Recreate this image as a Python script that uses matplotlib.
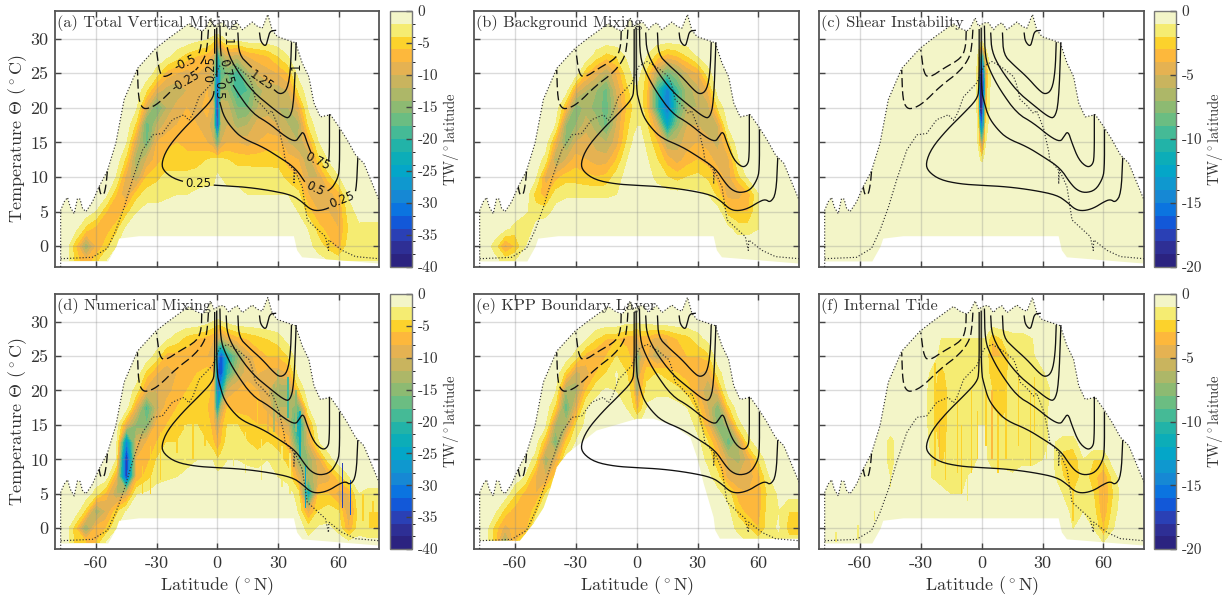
import numpy as np
import matplotlib
matplotlib.use("Agg")
import matplotlib.pyplot as plt
from matplotlib.colors import ListedColormap, BoundaryNorm
from matplotlib.colorbar import ColorbarBase

plt.rcParams.update({"font.family": ["cmr10", "DejaVu Serif"], "mathtext.fontset": "cm",
                     "axes.unicode_minus": False, "axes.formatter.use_mathtext": True})

# ---- colours of the 20 bands, from level 0 down to the most negative
band_colors = ["#f3f5c8", "#f5ec72", "#fcd22c", "#fdb83c", "#e5b252", "#c9b45e", "#adb768",
               "#8dba72", "#6bbd82", "#45ba96", "#22b3a8", "#0cadb8", "#04a6c8", "#0f98cf",
               "#1688d4", "#0b74e0", "#1258d8", "#2a40b5", "#2e2f95", "#2b2380"]

# ---- grid on which the magnitudes were read (TW/deg latitude, sign applied when drawn)
lat_cols = [-75, -70, -65, -60, -55, -50, -45, -40, -35, -30, -25, -20, -15, -10, -5, -2, 0, 2, 5,
            10, 15, 20, 25, 30, 35, 40, 45, 50, 55, 60, 65, 70, 75]
temp_rows = [-2, 0, 2.5, 5, 7.5, 10, 12.5, 15, 17.5, 20, 22.5, 25, 27.5, 30]
Z = [0] * 8

field_a = [
    [0, 5, 8, 5, 2, 0, 0, 0, *Z, 0, *Z, 0, 0, 1, 2, 3, 3, 3, 3],
    [0, 6, 14, 8, 5, 2, 0, 0, *Z, 0, *Z, 0, 1, 3, 5, 7, 3, 3, 3],
    [0, 1, 5, 7, 7, 5, 1, 0, *Z, 0, *Z, 1, 2, 5, 7, 8, 4, 2.5, 3],
    [0, 0, 0, 2, 6, 8, 5, 2, 1, 1, .5, .5, .5, 0, 0, 0, 0, 0, 0, 0, 0, 0, 0, 0, .5, 2, 5, 8, 8, 8, 3, 1, .5],
    [0, 0, 0, 0, 1, 6, 10, 5, 3, 3, 2.5, 2, 2, 1.5, 1.5, 1.5, 1.5, 1.5, 1.5, 1.5, 2, 2, 2, 2, 2, 3.5, 8, 9, 9, 7, 1.5, 0, 0],
    [0, 0, 0, 0, 0, 2, 9, 12, 6, 4.5, 3.5, 3.5, 3.5, 3, 2.5, 2.5, 1.5, 2, 2.5, 2.5, 2.5, 2.8, 2.8, 3, 5, 6, 10, 10, 5, 2, 0, 0, 0],
    [0, 0, 0, 0, 0, 0, 5, 14, 10, 7, 5, 5, 5, 5, 4, 3.5, 3, 3.5, 4, 5, 5, 5, 5, 5, 7, 8, 12, 5, 1.5, 0, 0, 0, 0],
    [0, 0, 0, 0, 0, 0, 1.5, 10, 17, 8, 7, 6, 7, 7, 8, 10, 18, 10, 8, 8, 9, 8, 7, 7, 10, 12, 8, 2, 0, 0, 0, 0, 0],
    [0, 0, 0, 0, 0, 0, 0, 5, 18, 12, 9, 8, 7, 8, 9, 12, 38, 12, 10, 13, 12, 9, 9, 10, 12, 13, 4, 0, 0, 0, 0, 0, 0],
    [0, 0, 0, 0, 0, 0, 0, 1.5, 10, 17, 12, 9, 8, 9, 7, 10, 40, 10, 11, 16, 16, 12, 11, 12, 12, 9, 1.5, 0, 0, 0, 0, 0, 0],
    [*Z, 4, 9, 11, 12, 10, 9, 8, 12, 38, 14, 14, 20, 18, 13, 11, 11, 10, 4, 0, 0, 0, 0, 0, 0, 0],
    [*Z, 0, 3, 7, 8, 9, 8, 9, 12, 32, 18, 16, 20, 13, 10, 9, 8, 6, 1, 0, 0, 0, 0, 0, 0, 0],
    [*Z, 0, 0, 1, 3, 5, 6, 7, 9, 24, 14, 10, 11, 8, 7, 6, 4, 2, *Z],
    [*Z, 0, 0, 0, 0, 0, 1, 1.5, 3, 6, 3, 1, .5, 0, 0, 0, 0, 0, *Z],
]
field_b = [
    [0, 1, 3, 2, 0, 0, 0, 0, *Z, 0, *Z, *Z],
    [0, 3, 9, 6, 2, 0, 0, 0, *Z, 0, *Z, *Z],
    [0, 0, 1, 3, 4, 1, 0, 0, *Z, 0, *Z, 0, 1, 3, 3, 2, 0, 0, 0],
    [0, 0, 0, 0, 1.5, 3, 3, 1, *Z, 0, *Z, .5, 5, 6, 6, 2, 0, 0, 0],
    [0, 0, 0, 0, 0, 5, 7, 3, 2.5, 2.5, 2.5, 2.5, 2.5, 2, 1, .5, .5, .5, .5, 1, 1, 1, 1, 1.5, 2, 5, 9, 9, 7, 2, 0, 0, 0],
    [0, 0, 0, 0, 0, 1, 9, 7, 5, 5, 5.5, 6, 5.5, 3, 1, .7, .5, .6, 1, 2.5, 4, 5, 4, 3.5, 4.5, 7, 9, 5, 1, 0, 0, 0, 0],
    [0, 0, 0, 0, 0, 0, 3, 13, 10, 7, 8, 9, 9, 6, 2, 1, .5, .7, 1.5, 4, 7, 9, 7, 6, 7, 9, 9, 2, 0, 0, 0, 0, 0],
    [0, 0, 0, 0, 0, 0, 0, 8, 15, 10, 9, 11, 12, 9, 4, 1.5, 1, 1, 2.5, 6, 12, 11, 9, 8, 9, 11, 5, 0, 0, 0, 0, 0, 0],
    [0, 0, 0, 0, 0, 0, 0, 2, 14, 14, 11, 13, 17, 10, 5, 3, 2, 2, 4, 10, 25, 15, 10, 10, 12, 10, 1, 0, 0, 0, 0, 0, 0],
    [*Z, 7, 16, 13, 15, 17, 11, 6, 4, 2, 3, 6, 20, 31, 19, 12, 12, 11, 4, 0, 0, 0, 0, 0, 0, 0],
    [*Z, 0, 9, 12, 14, 17, 10, 5, 3, 2, 3, 6, 20, 30, 19, 13, 11, 8, *Z],
    [*Z, 0, 0, 6, 9, 12, 8, 3, 1.5, 1.5, 2, 5, 12, 17, 14, 10, 8, 3, *Z],
    [*Z, 0, 0, 0, 3, 5, 4, 1.5, 1, .5, 1, 2, 5, 7, 6, 4, 1.5, 0, *Z],
    [*Z, *Z, 0, *Z, *Z],
]
field_d = [
    [0, 5, 6, 6, 1.5, 0, 0, 0, *Z, 0, *Z, 0, 1, 1, .5, 1, 1, 1, 1],
    [0, 6, 15, 7, 6, 2, 0, 0, *Z, 0, *Z, 0, 3, 1.5, 1.5, 2.5, 8, 3, 4],
    [0, 0, 5, 14, 10, 5, 1.5, 0, *Z, 0, *Z, 2, 9, 4, 3, 4, 10, 3, 4],
    [0, 0, 0, 3, 7, 12, 10, 2, 1.5, .5, 0, 0, 0, 0, 0, 0, 0, 0, 0, 0, 0, 0, 0, 0, .5, 3, 25, 6, 6, 9, 8, 2, 3],
    [0, 0, 0, 0, 0, 8, 36, 8, 5, 3, 2.5, 2, 1.5, 1, 1, 1, 1, 1, 1, 1, 1, 1, 1, 2, 3, 9, 14, 10, 9, 5, 2, 0, 0],
    [0, 0, 0, 0, 0, 2, 38, 8, 7, 4, 3.5, 3, 2.5, 2, 2, 2, 4, 3, 2, 2, 2.5, 3, 2, 3, 5, 14, 14, 9, 3, 0, 0, 0, 0],
    [0, 0, 0, 0, 0, 0, 30, 10, 8, 6, 4, 4, 3.5, 3, 4, 6, 8, 6, 3, 3, 4, 5, 4, 5, 7, 20, 10, 2, 0, 0, 0, 0, 0],
    [0, 0, 0, 0, 0, 0, 9, 15, 16, 7, 6, 5, 4, 4, 5, 7, 12, 7, 4, 4, 5, 6, 6, 8, 10, 25, 8, 0, 0, 0, 0, 0, 0],
    [0, 0, 0, 0, 0, 0, 0, 9, 19, 11, 7, 6, 5, 5, 6, 8, 26, 12, 6, 7, 7, 7, 9, 12, 12, 18, 2, 0, 0, 0, 0, 0, 0],
    [0, 0, 0, 0, 0, 0, 0, 3, 9, 10, 9, 7, 6, 5, 5, 7, 30, 24, 10, 8, 7, 8, 10, 14, 14, 5, 0, 0, 0, 0, 0, 0, 0],
    [*Z, 5, 8, 9, 8, 7, 6, 5, 6, 32, 34, 20, 12, 9, 8, 9, 9, 8, 1, 0, 0, 0, 0, 0, 0, 0],
    [*Z, 0, 3, 7, 7, 7, 8, 8, 8, 28, 34, 22, 15, 9, 7, 6, 6, 4, *Z],
    [*Z, 0, 0, 1.5, 3, 5, 6, 7, 8, 10, 12, 9, 7, 6, 5, 4, 3, 1, *Z],
    [*Z, 0, 0, 0, 0, 0, 0, 1, 2, 3, 2, 1, 0, 0, 0, 0, 0, 0, *Z],
]
field_e = [
    [.5, 5, 15, 6, 4, 1, 0, 0, *Z, 0, *Z, 0, 1, 1, 2, 3, 3, 3, 3],
    [0, 5, 9, 7, 7, 2, 0, 0, *Z, 0, *Z, 0, 1, 2.5, 4, 6, 3, 1.5, 5],
    [0, 1, 5, 7, 8, 5, 1, 0, *Z, 0, *Z, 0, 1, 5, 7, 7, 3, 2, 4],
    [0, 0, 0, 4, 7, 8, 4, 1, *Z, 0, *Z, 1, 3, 7, 8, 7, 3.5, 1.5, 1],
    [0, 0, 0, 0, 2, 8, 10, 5, 1, 0, 0, 0, 0, 0, 0, 0, 0, 0, 0, 0, 0, 0, 0, 0, 1, 3.5, 9, 10, 9, 7, 2, 0, 0],
    [0, 0, 0, 0, 0, 3, 14, 9, 2, 0, 0, 0, 0, 0, 0, 0, 0, 0, 0, 0, 0, 0, 0, .5, 2.5, 6, 11, 13, 9, 4, 0, 0, 0],
    [0, 0, 0, 0, 0, 0, 7, 17, 6, 1.5, 0, 0, 0, 0, 0, 0, 0, 0, 0, 0, 0, 0, 0, 1, 4, 9, 18, 12, 3, 0, 0, 0, 0],
    [0, 0, 0, 0, 0, 0, 1, 13, 13, 4, 1, 0, 0, 0, 0, 0, 1, .5, .5, 0, 0, 0, 0, 3, 8, 16, 13, 3, 0, 0, 0, 0, 0],
    [0, 0, 0, 0, 0, 0, 0, 5, 18, 9, 2, 1, 1, 1, 2, 4, 7, 5, 1.5, 1, 1, 1, 2, 5, 10, 16, 5, 0, 0, 0, 0, 0, 0],
    [0, 0, 0, 0, 0, 0, 0, 1.5, 14, 13, 6, 2.5, 1.5, 2, 3, 5, 14, 7, 3, 2.5, 2.5, 3.5, 5, 8, 12, 8, 0, 0, 0, 0, 0, 0, 0],
    [*Z, 5, 11, 9, 6, 4, 1.5, 4, 6, 18, 8, 5, 4, 5, 6, 7, 8, 9, 3, 0, 0, 0, 0, 0, 0, 0],
    [*Z, 0, 3, 7, 8, 6, 4, 5, 7, 18, 11, 8, 12, 9, 7, 6, 6, 5, *Z],
    [*Z, 0, 0, 1.5, 4, 6, 6, 7, 7, 9, 7, 7, 9, 8, 6, 5, 3, 1, *Z],
    [*Z, 0, 0, 0, 0, 0, 0, 1, 1, 1, 1, 1, 0, 0, 0, 0, 0, 0, *Z],
]
field_f = [
    [*Z, *Z, 0, *Z, 0, 0, 0, 0, 1, 0, 0, 0],
    [*Z, *Z, 0, *Z, 0, 1, 0, 1, 3, 1, .5, 0],
    [0, 0, 0, 1, 0, 0, 0, 0, *Z, 0, *Z, 0, 1.5, 1, 1.5, 4, 1.5, 0, 0],
    [0, 0, 0, 0, 0, 0, .5, 0, 0, 0, .5, .5, 1, 1, .5, 0, 0, 0, 0, 0, 0, 0, 0, 0, 0, 1, 2, 1, 2, 4, 2, 0, 0],
    [0, 0, 0, 0, 0, 0, 1, 0, 0, 0, 1, 1.5, 1.2, 1.2, .8, .6, .6, .6, .8, .8, .8, .6, .6, .6, .6, 2, 3, 1.5, 2.5, 4, 1.5, 0, 0],
    [0, 0, 0, 0, 0, 0, 1.5, 0, .5, 0, 1, 2.2, 1.5, 1.5, 1.4, .9, .8, .9, 1.2, 1.2, 1.5, 1.2, 1.2, 1, .8, 2.5, 3, 1, 2, 2, 0, 0, 0],
    [0, 0, 0, 0, 0, 0, 1.5, 0, 0, 0, 1.2, 2.5, 1.5, 1.8, 1.5, .9, .9, .9, 1.2, 1.5, 1.5, 1.5, 1.2, 1.2, .8, 1.5, 1.5, 0, 0, 0, 0, 0, 0],
    [*Z, 0, 0, 1.5, 2.8, 1.5, 1.8, 1.5, 1, 1, 1, 1.5, 1.8, 1.5, 1.5, 1.5, 1.2, .8, *Z],
    [*Z, 0, 0, 1.5, 2.8, 1.5, 1.8, 1.5, 1.2, 1.2, 1.2, 2, 2.5, 1.5, 1.4, 1.5, 1.2, .8, *Z],
    [*Z, 0, 0, 1.5, 2.8, 1.5, 1.5, 1.2, 1.2, 1.2, 1.2, 2, 2.2, 1.6, 1.8, 1.6, 1.5, .8, *Z],
    [*Z, 0, 0, 1.2, 2.5, 1.2, 1.2, 1.5, 1.5, 1.5, 1.5, 2.5, 2.5, 1.6, 1.6, 1.5, 1.2, 0, *Z],
    [*Z, 0, 0, 0, 1.5, 1.2, 1.2, 1.5, 1.2, 1.2, 1.5, 3, 3, 1.6, 1.5, 1.2, 0, 0, *Z],
    [*Z, 0, 0, 0, 1, 1, 1, 1, 1, 1, 1, 3, 2, 1.5, 1.5, 1, 0, 0, *Z],
    [*Z, *Z, 0, *Z, *Z],
]
# panel (c) is zero except in a narrow equatorial spike
c_lat_cols = [-5, -3, -2, -1, 0, 1, 2, 3, 5]
c_temp_rows = [12, 12.5, 15, 17.5, 20, 22.5, 25, 27.5, 29, 30]
field_c = [
    [0, 0, 0, 0, 0, 0, 0, 0, 0],
    [0, 0, 0, 0, 2, 0, 0, 0, 0],
    [0, 0, 1, 4, 8, 4, 1, 0, 0],
    [0, 0, 1, 12, 16, 11, 2, 1, 0],
    [0, 0, 2, 19, 20, 14, 4, 1.5, 0],
    [0, 0, 2.5, 20, 20, 17, 6, 2, 0],
    [0, 0, 2.5, 17, 20, 15, 6, 2.5, 0],
    [0, 0, 1, 8, 14, 8, 3, 1, 0],
    [0, 0, 0, 1, 3, 1, 0, 0, 0],
    [0, 0, 0, 0, 0, 0, 0, 0, 0],
]
# narrow vertical streaks: latitude, T low, T high, magnitude
streaks_d = [(62, 3, 9.5, 36), (66, 2, 7, 34), (43.5, 3, 9, 26), (41, 10, 17, 24), (39, 14, 20, 16),
             (35, 16, 22, 20), (30, 16, 23, 14), (28, 14, 21, 14), (25, 14, 20, 10), (20, 15, 19, 6),
             (-33, 5, 12, 6), (-28, 7, 14, 6), (-20, 11, 17, 5), (-37, 5, 9, 5),
             (-12, 10, 17, 5), (-6, 12, 18, 5), (-16, 9, 15, 3), (8, 9, 15, 3), (14, 8, 14, 3),
             (22, 7, 13, 3), (32, 6, 12, 3), (36, 5, 11, 3), (72, 1, 5, 5), (77, 0, 4, 6)]
streaks_f = [(-18, 7, 18, 3), (-10, 5, 15, 3), (-5, 8, 20, 2.5), (2, 12, 20, 3), (5, 10, 20, 3.5),
             (12, 10, 22, 3), (18, 12, 22, 2.5), (24, 9, 20, 2.5), (28, 12, 20, 2), (-21, 10, 16, 4),
             (-14, 5, 12, 2), (-45, 6, 13, 2), (-53, 1, 2.5, 1.5), (-72, -2, -.5, 1.5), (-61, -1.5, .5, 1.5),
             (45, 1, 9, 2.5), (60, -1, 6, 4), (-23, 9, 24, 2.5), (-12, 8, 19, 2.5), (-7, 4, 12, 1.5),
             (-2, 10, 17, 2.5), (8, 8, 24, 3), (15, 8, 14, 1.5), (21, 9, 16, 2), (26, 14, 22, 2.5), (32, 10, 17, 2)]

# ---- data region edges
top_lat = [-77.5, -77.5, -75.8, -74.1, -72.8, -70.8, -69.2, -67.9, -66.7, -65, -61.8, -58.5, -54.4, -50.2, -46.1, -39.5,
           -30.5, -23.9, -17.3, -14, -10.7, -7.4, -5.8, -3.3, -1.6, 1.2, 3.3, 5.8, 7.4, 9.9, 12.4, 17.3, 19.8, 22.2,
           25, 27.2, 29.7, 38.7, 42, 45.3, 47.8, 51, 56, 60.1, 64.2, 68.4, 72.5, 76.6, 80]
top_T = [-3, 5.2, 6.4, 7.05, 5.7, 4.7, 6.9, 6.8, 5.5, 5, 6.4, 8.6, 10.9, 14.9, 21.2, 25.7,
         28.6, 30.1, 31.5, 32.2, 31.5, 31.1, 31.5, 33, 31.8, 32.3, 32.3, 31.3, 31.9, 32.3, 31.3, 32.4, 31.8, 31.5,
         33.5, 31.2, 30.3, 29.4, 26.5, 24.5, 20.7, 18.7, 19, 17.3, 15.4, 13.2, 12, 9.1, 6.7]
low_lat = [-77.5, -54, -50, -48.6, -38.7, 37.9, 39.5, 42, 80]
low_T = [-2.2, -2.2, -.1, 1.1, 1.45, 1.45, -.6, -1.6, -2.5]
low_lat_e = [-77.5, -57.7, -51, -46, -43, -39.5, -34.6, -28, -19.8, -11.5, 0, 8.2, 18, 26.4, 29.7, 33, 37.9, 38.7, 41, 80]
low_T_e = [-1.8, -1.8, .7, 3, 5.5, 8.9, 10.8, 12.3, 14.2, 14.9, 15.9, 15.9, 14.9, 13.2, 10.3, 6.5, 1.6, -.3, -1.5, -1.5]
out_lat = [-77.5, -61.8, -54.4, -50.2, -46, -42, -37, -32, -27.2, -22.2, -16.5, -14, -12, -9, -2.5, 1, 5, 8, 10.7, 15.7, 17,
           18.9, 22, 25.5, 27, 30.5, 33, 33.5, 37.9, 37.9, 38.3, 42, 44.5, 53.5, 55, 55.2, 61.8, 68.4, 80]
out_T = [-1.8, -1.6, -.3, 2.3, 5.7, 9.6, 13.9, 16.1, 16.3, 18.3, 19, 18.2, 19.2, 21.6, 23.6, 26, 26.7, 26.2, 25.7, 24.5, 23.5,
         21.2, 20.4, 19.2, 19.6, 17, 13.7, 12.5, 11, 9, 11, 8.6, 3.8, 1.4, -.6, .9, -.6, -1.5, -1.8]

# ---- overturning streamfunction contours (lat, T)
psi_025 = ([-1.3, -1.3, -2.5, -9, -17.3, -24.7, -27.7, -26.4, -20.6, -10.7, 0, 12.4, 25.5, 37, 42, 46.1, 50.2, 55.2, 60.1, 63.4, 65.9, 68.7, 69.5],
           [31.3, 22.6, 21.2, 19.2, 16.8, 14.2, 12, 10.8, 9.6, 9, 8.8, 8.6, 8.1, 7.4, 6.4, 5.3, 5.1, 5.5, 6.4, 6.8, 6.3, 7.6, 12.7])
psi_05 = ([-.3, -.3, 1.3, 3.3, 7.4, 12.4, 22.2, 30.5, 38.7, 43.7, 47, 51, 56, 59.3, 60.5, 60.5],
          [31.5, 22.6, 20.7, 18.7, 17, 15.6, 14.4, 12.9, 11.3, 9.1, 8.1, 7.7, 8.1, 9.6, 11, 16.8])
psi_075 = ([1.3, 1.6, 4.1, 9, 17.3, 25.5, 33.8, 38.7, 40.4, 42.5, 44.5, 47.8, 51.9, 54.4, 55.5, 55.5],
           [31.8, 27.4, 25.3, 22.6, 19.2, 17.8, 15.8, 15.1, 15.8, 16.7, 14.9, 12.5, 11.4, 11.7, 12.7, 19])
psi_1 = ([4.4, 4.9, 9, 17.3, 25.5, 32.8, 35.9, 37.9, 39], [30.8, 28.2, 25.7, 22.4, 20.4, 18.7, 18.5, 20.7, 29.4])
psi_125 = ([10.2, 10.7, 15.7, 22.2, 28, 31.3, 34.6, 36.2, 36.7], [30.8, 27.7, 26.2, 24.5, 22.6, 21.9, 22.6, 25.3, 29.4])
psi_top = ([20.9, 21.4, 23.9, 25, 26, 28.8], [30.8, 29.6, 28.8, 29.9, 31.1, 31.2])
psi_m025 = ([-4.4, -4.8, -5.8, -10.7, -20.6, -28.8, -33.8, -37, -39, -39.5], [31.3, 29.4, 27.4, 25.3, 23.1, 20.7, 19.9, 19.9, 21.2, 25.5])
psi_m05 = ([-7.7, -7.9, -9.9, -18.9, -25.5, -28.5, -30.1], [31.1, 28.9, 27.2, 25.7, 24.4, 24.8, 28.4])
psi_small = ([-54.4, -54.9, -56, -57.7, -58.5], [10.8, 9.1, 7.4, 7.4, 8.6])

# ---- contour labels of panel (a): text, lat, T, rotation
psi_labels = [("0.25", -9.4, 9, 0), ("0.5", 48.3, 8.3, -25), ("0.25", 61.8, 6.7, 22), ("0.75", 49.4, 12.3, -25),
              ("1.25", 22, 24, -35), ("1", 39, 26, 90), ("1", 4.7, 29.6, -90), ("0.75", 4.3, 25.3, -75),
              ("0.5", .8, 22.6, -90), ("0.25", -3.2, 25.6, 90), ("-0.5", -16, 26.5, 25), ("-0.25", -15.5, 23.8, 30)]

# ---- texts and ticks
titles = ["(a) Total Vertical Mixing", "(b) Background Mixing", "(c) Shear Instability",
          "(d) Numerical Mixing", "(e) KPP Boundary Layer", "(f) Internal Tide"]
x_ticks = [-60, -30, 0, 30, 60]
y_ticks = [0, 5, 10, 15, 20, 25, 30]
x_tick_labels = ["-60", "-30", "0", "30", "60"]
y_tick_labels = ["0", "5", "10", "15", "20", "25", "30"]

W, H = 1225, 598
fig = plt.figure(figsize=(W / 100, H / 100), dpi=100)
INK = "#333333"


def box(x0, x1, y0, y1):
    return [x0 / W, 1 - y1 / H, (x1 - x0) / W, (y1 - y0) / H]


def panel_style(cmax):
    levels = np.linspace(-cmax, 0, 21)
    cmap = ListedColormap(band_colors[::-1])
    return levels, cmap, BoundaryNorm(levels, 20)


def rounded(xs, ys, passes=2):
    # corner-cutting so the read polylines render as smooth curves
    xs, ys = np.array(xs, float), np.array(ys, float)
    for _ in range(passes):
        qx, qy = .75 * xs[:-1] + .25 * xs[1:], .75 * ys[:-1] + .25 * ys[1:]
        rx, ry = .25 * xs[:-1] + .75 * xs[1:], .25 * ys[:-1] + .75 * ys[1:]
        xs = np.r_[xs[0], np.column_stack([qx, rx]).ravel(), xs[-1]]
        ys = np.r_[ys[0], np.column_stack([qy, ry]).ravel(), ys[-1]]
    return xs, ys


def draw_psi(ax, label=False):
    for line, style in [(psi_025, "-"), (psi_05, "-"), (psi_075, "-"), (psi_1, "-"), (psi_125, "-"), (psi_top, "-"),
                        (psi_m025, (0, (7, 3))), (psi_m05, (0, (7, 3))), (psi_small, (0, (7, 3)))]:
        xs, ys = rounded(*line)
        if label:
            s = np.linspace(0, len(xs) - 1, 12 * len(xs))
            xs, ys = np.interp(s, np.arange(len(xs)), xs), np.interp(s, np.arange(len(ys)), ys)
            for txt, lx, ly, rot in psi_labels:
                px, py = (xs - lx) * 2.02, (ys - ly) * 6.9
                a = np.deg2rad(rot)
                along = px * np.cos(a) + py * np.sin(a)
                across = -px * np.sin(a) + py * np.cos(a)
                hit = (np.abs(along) < 3 + 3.2 * len(txt)) & (np.abs(across) < 5)
                xs, ys = np.where(hit, np.nan, xs), np.where(hit, np.nan, ys)
        ax.plot(xs, ys, color="#111111", lw=.95, ls=style, zorder=5)
    if label:
        for txt, lx, ly, rot in psi_labels:
            ax.text(lx, ly, txt, rotation=rot, ha="center", va="center", fontsize=8.5,
                    family="DejaVu Sans", color="#111111", zorder=6)


def draw_panel(ax, title, field, cmax, lats=lat_cols, temps=temp_rows, streaks=(), low=(low_lat, low_T), label=False):
    levels, cmap, norm = panel_style(cmax)
    poly = ax.fill(list(top_lat) + list(low[0][::-1]), list(top_T) + list(low[1][::-1]),
                   color=band_colors[0], lw=0, zorder=1)[0]
    M = np.array(field, float)
    M = np.hstack([M[:, :1], M, M[:, -1:]]) if lats is lat_cols else M
    la = [-80, *lats, 80] if lats is lat_cols else lats
    if temps is temp_rows:
        M = np.vstack([M, np.zeros((1, M.shape[1]))])
        te = [*temps, 31]
    else:
        te = temps
    cs = ax.contourf(la, te, -M, levels=levels[:-1], cmap=ListedColormap(band_colors[1:][::-1]),
                     norm=BoundaryNorm(levels[:-1], 19), zorder=2, extend="min")
    cs.set_clip_path(poly)
    for lat, t0, t1, v in streaks:
        b = ax.bar(lat, t1 - t0, width=.7, bottom=t0, color=cmap(norm(-v)), lw=0, zorder=3)
        b[0].set_clip_path(poly)
    ax.plot(top_lat, top_T, color="#333333", ls=":", lw=.85, zorder=4)
    ax.plot(out_lat, out_T, color="#333333", ls=":", lw=.85, zorder=4)
    draw_psi(ax, label)
    ax.set_xlim(-80.3, 80)
    ax.set_ylim(-3, 34)
    ax.set_xticks(x_ticks)
    ax.set_yticks(y_ticks)
    ax.grid(True, color="#888888", alpha=.3, lw=1)
    ax.set_axisbelow(False)
    for gl in ax.get_xgridlines() + ax.get_ygridlines():
        gl.set_zorder(4.5)
    ax.tick_params(direction="in", top=True, right=True, length=4, width=1, color="#444444",
                   labelcolor=INK, labelsize=13, labelbottom=False, labelleft=False, pad=5)
    for s in ax.spines.values():
        s.set_color("#555555")
        s.set_linewidth(1.3)
    ax.text(.0065, .985, title, transform=ax.transAxes, ha="left", va="top", fontsize=11.7, color=INK, zorder=7)


def draw_cbar(ax, cmax, ticks, tick_labels):
    levels, cmap, norm = panel_style(cmax)
    cb = ColorbarBase(ax, cmap=cmap, norm=norm, boundaries=levels, ticks=ticks, spacing="proportional")
    cb.set_ticklabels(tick_labels)
    cb.ax.tick_params(direction="in", length=4, width=1, color="#444444", labelcolor=INK, labelsize=11, pad=4)
    cb.outline.set_edgecolor("#777777")
    cb.outline.set_linewidth(1)
    cb.set_label("TW/$^\\circ$latitude", fontsize=10.5, color=INK, labelpad=2)


rows = [(11, 267), (294, 549)]
cols = [(55, 379), (474, 799), (819, 1144)]
cbars = [(390, 412), (1154, 1176)]
axs = [[fig.add_axes(box(*c, *r)) for c in cols] for r in rows]

draw_panel(axs[0][0], titles[0], field_a, 40, label=True)
draw_panel(axs[0][1], titles[1], field_b, 40)
draw_panel(axs[0][2], titles[2], field_c, 20, lats=c_lat_cols, temps=c_temp_rows)
draw_panel(axs[1][0], titles[3], field_d, 40, streaks=streaks_d)
draw_panel(axs[1][1], titles[4], field_e, 40, low=(low_lat_e, low_T_e))
draw_panel(axs[1][2], titles[5], field_f, 20, streaks=streaks_f)

for i, r in enumerate(rows):
    ax = axs[i][0]
    ax.tick_params(labelleft=True)
    ax.set_yticklabels(y_tick_labels)
    ax.set_ylabel("Temperature $\\Theta$ $(^\\circ$C)", fontsize=13, color=INK, labelpad=1)
    draw_cbar(fig.add_axes(box(*cbars[0], *r)), 40, [0, -5, -10, -15, -20, -25, -30, -35, -40],
              ["0", "-5", "-10", "-15", "-20", "-25", "-30", "-35", "-40"])
    draw_cbar(fig.add_axes(box(*cbars[1], *r)), 20, [0, -5, -10, -15, -20], ["0", "-5", "-10", "-15", "-20"])
for ax in axs[1]:
    ax.tick_params(labelbottom=True)
    ax.set_xticklabels(x_tick_labels)
    ax.set_xlabel("Latitude $(^\\circ$N)", fontsize=13, color=INK, labelpad=2)

fig.savefig("out.png", dpi=100)
